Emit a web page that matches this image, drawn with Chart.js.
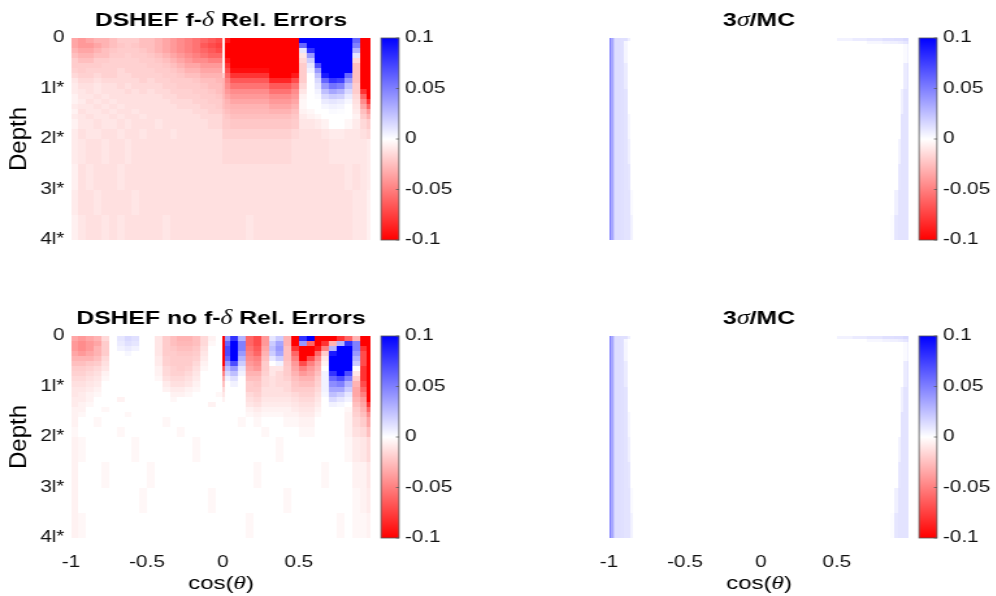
<!DOCTYPE html>
<html>
<head>
<meta charset="utf-8">
<script src="https://cdn.jsdelivr.net/npm/chart.js@4.4.1/dist/chart.umd.min.js"></script>
<style>
  html, body { margin: 0; padding: 0; background: #ffffff; }
  body { width: 996px; height: 596px; position: relative; overflow: hidden; }
  .panel { position: absolute; width: 352px; height: 298px; transform: scaleX(1.3); transform-origin: 0 0; }
  .panel canvas { display: block; }
</style>
</head>
<body>
<div class="panel" style="left:0px;top:0px"><canvas id="errFd" width="352" height="298"></canvas></div>
<div class="panel" style="left:538px;top:0px"><canvas id="sigFd" width="352" height="298"></canvas></div>
<div class="panel" style="left:0px;top:298px"><canvas id="errNoFd" width="352" height="298"></canvas></div>
<div class="panel" style="left:538px;top:298px"><canvas id="sigNoFd" width="352" height="298"></canvas></div>
<script>
// ---------- grid edges and ticks ----------
const cosEdgesErr = [-1,-0.95,-0.9,-0.85,-0.8,-0.75,-0.7,-0.65,-0.6,-0.55,-0.5,-0.45,-0.4,-0.35,-0.3,-0.25,-0.2,-0.15,-0.1,-0.05,
  0,0.015,0.05,0.1,0.15,0.2,0.25,0.3,0.35,0.4,0.45,0.5,0.55,0.6,0.65,0.7,0.75,0.8,0.85,0.9,0.95,0.975];
const depthEdgesErr = [0,0.1,0.2,0.3,0.4,0.5,0.6,0.7,0.8,0.9,1.0,1.1,1.2,1.3,1.4,1.5,1.6,1.8,2.0,2.5,3.0,3.5,4.0];
const cosEdgesSig = [-1,-0.99,-0.975,-0.96,-0.93,-0.9,-0.88,-0.86,-0.84,0.5,0.6,0.7,0.8,0.85,0.88,0.9,0.92,0.94,0.96,0.97,0.975];
const depthEdgesSig = [0,0.06,0.12,0.5,1,1.5,2,2.5,3,3.5,4];

const cosTicks = [-1, -0.5, 0, 0.5];
const cosTickLabels = ['-1', '-0.5', '0', '0.5'];
const depthTicks = [0, 1, 2, 3, 4];
const depthTickLabels = ['0', '1l*', '2l*', '3l*', '4l*'];
const cbarTicks = [-0.1, -0.05, 0, 0.05, 0.1];
const cbarTickLabels = ['-0.1', '-0.05', '0', '0.05', '0.1'];

// ---------- relative errors, in percent (rows = depth bands, columns = cos bins) ----------
const relErrFd = [
  [-3.5,-4,-3.5,-3,-3, -2.5,-2,-2,-2,-2.5, -2.5,-3,-3.5,-4,-4.5, -5,-5.5,-6,-6.5,-7, -0.5,-9, -12,-12,-12,-12,-12, -12,-12,-12,-12,10, 12,12,12,12,12, 12,6,-12,-12],
  [-3.5,-4,-4,-3.5,-3, -2.5,-2.2,-2,-2.2,-2.5, -2.5,-3,-3.5,-4,-4.5, -5,-5.5,-6.5,-7,-7.5, -0.5,-10, -12,-12,-12,-12,-12, -12,-12,-12,-12,6, 12,12,12,12,12, 12,5,-12,-12],
  [-3,-3.5,-3.5,-3,-2.5, -2.2,-2,-2,-2,-2.2, -2.5,-3,-3.5,-4,-4.5, -5,-5.5,-6,-6.5,-7, -0.5,-10, -12,-12,-12,-12,-12, -12,-12,-12,-12,1, 8,12,12,12,12, 12,3,-12,-12],
  [-2.5,-3,-3,-2.5,-2.5, -2,-2,-1.8,-2,-2, -2.2,-2.5,-3,-3.5,-4, -4.5,-5,-5.5,-6,-6, -0.5,-10, -12,-12,-12,-12,-12, -12,-12,-12,-12,-1, 4,12,12,12,12, 12,1,-12,-12],
  [-2,-2.5,-2.5,-2,-2, -1.8,-1.8,-1.8,-1.8,-2, -2,-2.2,-2.5,-3,-3.5, -4,-4.5,-4.5,-5,-5, -0.5,-9, -12,-12,-12,-12,-12, -12,-12,-12,-12,-1.5, 2,10,12,12,12, 12,-1.5,-12,-12],
  [-2,-2,-2,-2,-1.8, -1.8,-1.8,-1.8,-1.8,-1.8, -2,-2,-2.2,-2.5,-3, -3.5,-3.5,-4,-4,-4, -0.5,-8, -11,-11,-11,-11,-11, -12,-12,-12,-12,-2, 1,7,12,12,12, 12,-2.5,-12,-12],
  [-1.8,-2,-1.8,-1.8,-1.8, -1.8,-1.5,-1.8,-1.8,-1.8, -1.8,-2,-2,-2.2,-2.5, -3,-3,-3.5,-3.5,-3.5, -0.5,-7, -9.5,-9.5,-9.5,-9.5,-9.5, -12,-12,-12,-12,-2, 0.5,4,12,12,12, 10,-2.5,-12,-12],
  [-1.5,-1.8,-1.8,-1.5,-1.8, -1.8,-1.5,-1.5,-1.8,-1.8, -1.8,-1.8,-2,-2,-2.2, -2.5,-2.5,-3,-3,-3, -2,-6, -8,-8,-8,-8,-8, -10.5,-10.5,-10.5,-9,-2, 0,2.5,9,12,12, 6,-2.5,-12,-12],
  [-1,-1.5,-1.5,-1.2,-1.5, -1.5,-1.5,-1.5,-1.5,-1.8, -1.5,-1.8,-1.8,-2,-2, -2,-2.2,-2.5,-2.5,-2.8, -3,-5, -6.5,-6.5,-6.5,-6.5,-6.5, -8.5,-8.5,-8.5,-7,-2, 0,1.5,6,8,7.5, 4,-2.5,-12,-12],
  [-0.8,-1.2,-1.2,-1,-1.2, -1.2,-1.5,-1.2,-1.5,-1.5, -1.5,-1.5,-1.8,-1.8,-2, -2,-2,-2.2,-2.5,-2.5, -3,-4.5, -5.5,-5.5,-5.5,-5.5,-5.5, -6.5,-6.5,-6.5,-5.5,-1.5, 0,1,4,5.5,5, 2.5,-2,-10,-12],
  [-0.8,-1,-1.2,-1,-1.2, -1.2,-1.2,-1.5,-1.2,-1.5, -1.2,-1.5,-1.5,-1.8,-1.8, -1.8,-2,-2,-2.2,-2.5, -3,-4, -4.5,-4.5,-4.5,-4.5,-4.5, -5.5,-5.5,-5.5,-4.5,-1, 0,0.5,2.5,3.5,3, 1.5,-2,-8,-12],
  [-0.5,-1,-1,-1.2,-1, -1.2,-1.2,-1.2,-1.2,-1.2, -1.2,-1.2,-1.5,-1.5,-1.8, -1.8,-1.8,-2,-2,-2.2, -2.8,-3.5, -4,-4,-4,-4,-4, -4.5,-4.5,-4.5,-4,-0.5, 0,0.2,1.5,2,1.8, 0.8,-1.5,-6,-10],
  [-0.5,-0.8,-1.2,-1,-1.2, -1,-1.2,-1.2,-1.2,-1.2, -1.2,-1.2,-1.2,-1.5,-1.5, -1.5,-1.8,-1.8,-2,-2, -2.5,-3, -3.5,-3.5,-3.5,-3.5,-3.5, -4,-4,-4,-3.5,-0.3, 0,0,0.8,1,0.8, 0.3,-1.2,-4.5,-8],
  [-0.8,-1,-1,-1.2,-1, -1.2,-1,-1.2,-1.2,-1.2, -1.2,-1.2,-1.2,-1.2,-1.5, -1.5,-1.5,-1.8,-1.8,-2, -2.5,-2.8, -3,-3,-3,-3,-3, -3.5,-3.5,-3.5,-3,-0.3, 0,0,0.3,0.5,0.4, 0,-1,-3.5,-6],
  [-0.5,-1.2,-1,-1,-1.2, -1,-1.2,-1.2,-1,-1.2, -1.2,-1.2,-1.2,-1.2,-1.2, -1.2,-1.5,-1.5,-1.8,-1.8, -2.2,-2.5, -2.8,-2.8,-2.8,-2.8,-2.8, -3,-3,-3,-2.5,-0.5, -0.3,0,0,0.2,0.1, 0,-0.8,-2.5,-4],
  [-0.8,-1,-1.2,-1,-1, -1.2,-1,-1.2,-1.2,-1, -1.2,-1.2,-1.2,-1.2,-1.2, -1.2,-1.2,-1.5,-1.5,-1.5, -2,-2.2, -2.5,-2.5,-2.5,-2.5,-2.5, -2.5,-2.5,-2.5,-2.2,-0.8, -0.5,-0.3,0,0,0, 0,-0.5,-2,-3],
  [-0.5,-1,-1,-1.2,-1, -1,-1.2,-1,-1.2,-1.2, -1.2,-1,-1.2,-1.2,-1.2, -1.2,-1.2,-1.2,-1.5,-1.5, -2,-2, -2.2,-2.2,-2.2,-2.2,-2.2, -2.2,-2.2,-2.2,-2,-1, -1,-0.8,-0.5,0,0, -0.3,-0.8,-1.5,-2],
  [-0.8,-1.2,-1,-1,-1.2, -1.2,-1,-1.2,-1.2,-1, -1.2,-1.2,-1.2,-1,-1.2, -1.2,-1.2,-1.2,-1.2,-1.2, -1.8,-1.8, -1.8,-1.8,-1.8,-1.8,-1.8, -1.8,-1.8,-1.8,-1.5,-1.2, -1.2,-1.2,-1,-0.8,-0.8, -1,-1,-1.2,-1.5],
  [-0.8,-1,-1.2,-1.2,-1, -1.2,-1.2,-1,-1.2,-1.2, -1.2,-1.2,-1.2,-1.2,-1.2, -1.2,-1.2,-1.2,-1.2,-1.2, -1.5,-1.5, -1.5,-1.5,-1.5,-1.5,-1.5, -1.5,-1.5,-1.5,-1.2,-1.2, -1.2,-1.2,-1.2,-1,-1, -1,-1,-1,-0.8],
  [-0.6,-1.2,-1,-1.2,-1.2, -1.2,-1,-1.2,-1.2,-1.2, -1.2,-1.2,-1.2,-1.2,-1.2, -1.2,-1.2,-1.2,-1.2,-1.2, -1.2,-1.2, -1.2,-1.2,-1.2,-1.2,-1.2, -1.2,-1.2,-1.2,-1.2,-1.2, -1.2,-1.2,-1.2,-1.2,-1.2, -1,-1.2,-1,-0.8],
  [-0.8,-1.2,-1.2,-1,-1.2, -1.2,-1.2,-1.2,-1,-1.2, -1.2,-1.2,-1.2,-1.2,-1.2, -1.2,-1.2,-1.2,-1.2,-1.2, -1.2,-1.2, -1.2,-1.2,-1.2,-1.2,-1.2, -1.2,-1.2,-1.2,-1.2,-1.2, -1.2,-1.2,-1.2,-1.2,-1.2, -1.2,-1,-1,-0.6],
  [-0.6,-1,-1.2,-1.2,-1, -1.2,-1,-1.2,-1.2,-1.2, -1.2,-1.2,-1,-1.2,-1.2, -1.2,-1.2,-1.2,-1.2,-1.2, -1.2,-1.2, -1.2,-1.2,-1,-1.2,-1.2, -1.2,-1.2,-1.2,-1.2,-1.2, -1.2,-1.2,-1.2,-1.2,-1.2, -1.2,-1,-1,-0.6]
];

const relErrNoFd = [
  [-3.5,-4,-3.5,-3,-1.5, 0,1,1.5,1.2,0, 0,-1,-2,-2.5,-3, -3,-2.5,-1.5,-0.5,0, -12,4, 8,3,-6,-7,-4, 1,2,-3,-10,8, 12,-12,-12,-10,-8, -6,-3,-12,-12],
  [-4,-4.5,-4,-3.5,-2, 0,0.8,1.2,1,0, 0,-1,-2,-2.5,-2.8, -2.8,-2.5,-1.5,-0.3,0, -12,6, 12,5,-6,-7,-4, 2,3.5,-3,-10,4, -6,-12,-8,-3,3, 8,5,-10,-12],
  [-4,-4.5,-4,-3,-2, 0,0.5,0.8,0.5,0, 0,-1,-2,-2.2,-2.5, -2.5,-2.2,-1.2,0,0, -12,7, 12,5,-5.5,-6.5,-3.5, 2.5,4,-2.5,-8,-12, -12,-9,-5,3,12, 12,5,-8,-12],
  [-3.5,-4,-3.5,-3,-2, 0,0,0.3,0,0, 0,-1,-2,-2,-2.2, -2.2,-2,-1,0,0, -12,7, 12,4,-5,-6,-3, 2,3.5,-2.5,-6,-12, -10,-6,-2,9,12, 12,4,-7,-12],
  [-3,-3,-3,-2.5,-1.5, 0,0,0,0,0, 0,-0.8,-1.8,-2,-2, -2,-1.8,-0.8,0,0, -12,6, 10,3,-4.5,-5,-2.5, 1,2,-2.5,-5,-10, -7,-4.5,-1,12,12, 12,3,-7,-12],
  [-2.5,-2.5,-2.2,-2,-1.2, 0,0,0,0,0, 0,-0.8,-1.8,-2,-2, -2,-1.5,-0.5,0,0, -10,4, 7,2,-4,-4.5,-2, 0,0.5,-2.2,-4,-7, -5,-3.5,-0.5,12,12, 12,2,-7,-12],
  [-2,-2,-1.8,-1.5,-1, 0,0,0,0,0, 0,-0.5,-1.5,-1.8,-2, -1.8,-1.2,-0.3,0,0, -7,2.5, 4,1,-3.5,-4,-2, -1,-1,-2,-3.5,-5, -4,-3,0,10,12, 10,0,-8,-12],
  [-1.8,-1.8,-1.5,-1.2,-0.5, 0,0,0,0,0, 0,-0.5,-1.5,-1.8,-1.8, -1.5,-1,0,0,0, -5,1.5, 2.5,0.5,-3,-3,-1.8, -1,-1.5,-2,-3,-4, -3.5,-2.5,0.5,8,10, 7,-1,-8,-12],
  [-1.5,-1.5,-1.2,-1,-0.3, 0,0,0,0,0, 0,-0.3,-1.2,-1.5,-1.5, -1.2,-0.8,0,0,0, -3.5,0.5, 1.2,0,-2.5,-2.5,-1.5, -1.2,-1.5,-1.8,-2.5,-3, -3,-2,0.5,6,7, 5,-2,-8,-12],
  [-1.2,-1.2,-1,-0.8,0, 0,0,0,0,0, 0,0,-0.8,-1.2,-1.2, -1,-0.5,0,0,0, -2.5,0, 0.5,0,-2,-2.2,-1.5, -1.2,-1.5,-1.5,-2.2,-2.5, -2.5,-1.8,0.5,4.5,5, 3,-3,-7,-12],
  [-1,-1,-0.8,-0.5,0, 0,0,0,0,0, 0,0,-0.5,-0.8,-0.8, -0.5,-0.3,0,0,0, -1.5,0, 0,0,-2,-2,-1.2, -1.2,-1.2,-1.5,-2,-2, -2,-1.5,0.5,3.5,3.5, 2,-3.5,-6,-12],
  [-1,-0.8,-0.5,-0.3,0, 0,0,0,0,0, 0,0,0,-0.5,-0.5, -0.3,0,0,0,-0.3, -1,0, 0,0,-1.5,-1.8,-1.2, -1.2,-1.2,-1.2,-1.5,-1.8, -1.8,-1.2,0.3,2.5,2, 1,-3.5,-5,-12],
  [-0.8,-0.8,-0.5,0,0, 0,-0.5,0,0,0, 0,0,0,-0.3,0, 0,0,0,0,0, -0.5,0, 0,0,-1.2,-1.5,-1, -1,-1,-1,-1.2,-1.5, -1.5,-1,0,1.5,1, 0.5,-3,-4,-10],
  [-0.8,-0.5,-0.3,0,0, 0,0,0,0,0, 0,0,0,0,0, 0,0,0,-0.5,0, 0,0, 0,0,-1,-1.2,-0.8, -0.8,-0.8,-0.8,-1,-1.2, -1.2,-0.8,0,0.5,0.3, 0,-2.5,-3.5,-8],
  [-0.5,-0.5,0,0,-0.3, 0,0,0,0,0, 0,0,0,0,0, 0,0,0,0,0, 0,0, 0,0,-0.5,-0.8,-0.5, -0.5,-0.5,-0.5,-0.8,-1, -1,-0.5,0,0,0, -0.3,-2,-3,-6],
  [-0.5,-0.3,0,0,0, 0,0,-0.3,0,0, 0,0,0,0,0, 0,0,0,0,0, 0,0, 0,0,-0.3,-0.5,-0.3, -0.3,-0.3,-0.5,-0.5,-0.8, -0.8,-0.3,0,0,0, -0.5,-1.8,-2.5,-4.5],
  [-0.5,0,0,-0.3,0, 0,0,0,0,0, 0,0,-0.3,0,0, 0,0,0,0,0, 0,0, 0,-0.3,0,-0.3,0, 0,0,-0.3,-0.3,-0.5, -0.5,0,0,0,0, -0.5,-1.5,-2,-3.5],
  [-0.3,0,0,0,0, 0,-0.3,0,0,0, 0,0,0,0,-0.3, 0,0,0,0,0, 0,0, 0,0,0,0,-0.3, 0,0,0,0,-0.3, -0.3,0,0,0,0, -0.5,-1.2,-1.5,-2.5],
  [-0.5,-0.3,0,0,0, 0,0,0,-0.3,0, 0,0,0,0,0, 0,-0.3,0,0,0, 0,0, 0,0,0,0,0, 0,-0.3,0,0,0, 0,0,0,0,0, -0.3,-0.8,-1,-1.5],
  [-0.5,0,0,0,-0.3, 0,0,0,0,0, -0.3,0,0,0,0, 0,0,0,0,0, 0,0, 0,0,0,-0.3,0, 0,0,0,0,0, 0,0,-0.3,0,0, 0,-0.5,-0.5,-1],
  [-0.5,0,0,0,0, 0,0,0,0,-0.3, 0,0,0,0,0, 0,0,0,-0.3,0, 0,0, 0,0,0,0,0, 0,0,-0.3,0,0, 0,0,0,0,0, 0,-0.3,-0.5,-0.8],
  [-0.5,-0.3,0,0,0, 0,0,0,0,0, 0,0,0,0,0, 0,0,0,0,0, 0,0, 0,0,-0.3,0,0, 0,0,0,0,0, 0,0,0,0,-0.3, 0,-0.3,-0.3,-0.5]
];

// 3-sigma Monte Carlo noise relative to the MC value, in percent
const sigmaOverMc = [
  [5,3.5,2,1.3,1.2,1.2,0.6,0, 0, 0.5,0.8,1,1.2,1.2,1.3,1.3,1.3,1.5,1.5,2],
  [5,3.5,2,1.3,1.2,0.3,0,0, 0, 0,0,0.3,0.5,0.6,0.6,0.7,0.8,1,1.2,2],
  [5,3.5,2,1.3,1.2,0.4,0,0, 0, 0,0,0,0,0,0,0,0,0.2,0.6,2],
  [5,3.5,2,1.3,1.2,0.8,0,0, 0, 0,0,0,0,0,0,0,0,0.8,1.1,2],
  [5,3.5,2,1.3,1.2,1.1,0,0, 0, 0,0,0,0,0,0,0,0.6,1.1,1.1,2],
  [5,3.5,2,1.3,1.2,1.1,0.3,0, 0, 0,0,0,0,0,0,0,1.1,1.1,1.1,2],
  [5,3.5,2,1.3,1.2,1.1,0.6,0, 0, 0,0,0,0,0,0,0.5,1.1,1.1,1.1,2],
  [5,3.5,2,1.3,1.2,1.1,1,0, 0, 0,0,0,0,0,0,1,1.1,1.1,1.1,2],
  [5,3.5,2,1.3,1.2,1.1,1.1,0.2, 0, 0,0,0,0,0,0.6,1.1,1.1,1.1,1.1,2],
  [5,3.5,2,1.3,1.2,1.1,1.1,0.5, 0, 0,0,0,0,0.1,1,1.1,1.1,1.1,1.1,2]
];

// ---------- presentation ----------
const H_STRETCH = 1.3;             // horizontal stretch applied to every panel by CSS
const CW = 352, CH = 298;          // canvas size of one panel
const PLOT = { left: 54.6, right: 285.4, top: 38, bottom: 240 };
const CBAR = { gap: 7.7, width: 13.8 };
const INK = '#111111';
const SANS = '"Liberation Sans", Arial, Helvetica, sans-serif';
const SERIF = '"Liberation Serif", "Times New Roman", serif';

Chart.defaults.font.family = SANS;
Chart.defaults.font.size = 16;
Chart.defaults.color = INK;

// red - white - blue map, saturating at +-0.1
function rwb(v) {
  const t = Math.max(-1, Math.min(1, v / 0.1));
  if (t >= 0) { const a = Math.round(255 * (1 - t)); return `rgb(${a},${a},255)`; }
  const a = Math.round(255 * (1 + t));
  return `rgb(255,${a},${a})`;
}

function heatmapLayer(xEdges, yEdges, valuesPct) {
  return {
    id: 'heatmapLayer',
    beforeDatasetsDraw(chart) {
      const { ctx, chartArea: a, scales: { x, y } } = chart;
      ctx.save();
      ctx.beginPath();
      ctx.rect(a.left, a.top, a.right - a.left, a.bottom - a.top);
      ctx.clip();
      for (let r = 0; r < valuesPct.length; r++) {
        const ya = Math.round(y.getPixelForValue(yEdges[r]));
        const yb = Math.round(y.getPixelForValue(yEdges[r + 1]));
        const row = valuesPct[r];
        for (let c = 0; c < row.length; c++) {
          const xa = Math.round(x.getPixelForValue(xEdges[c]));
          const xb = Math.round(x.getPixelForValue(xEdges[c + 1]));
          ctx.fillStyle = rwb(row[c] / 100);
          ctx.fillRect(xa, ya, xb - xa, yb - ya);
        }
      }
      ctx.restore();
    }
  };
}

const colorbarLayer = {
  id: 'colorbarLayer',
  afterDraw(chart) {
    const { ctx, chartArea: a } = chart;
    const s = chart.scales.cb;
    const x0 = a.right + CBAR.gap, x1 = x0 + CBAR.width;
    const yTop = s.getPixelForValue(cbarTicks[cbarTicks.length - 1]);
    const yBot = s.getPixelForValue(cbarTicks[0]);
    const g = ctx.createLinearGradient(0, yTop, 0, yBot);
    g.addColorStop(0, rwb(0.1));
    g.addColorStop(0.5, rwb(0));
    g.addColorStop(1, rwb(-0.1));
    ctx.save();
    ctx.fillStyle = g;
    ctx.fillRect(x0, yTop, x1 - x0, yBot - yTop);
    ctx.strokeStyle = '#555';
    ctx.lineWidth = 0.8;
    ctx.strokeRect(x0, yTop, x1 - x0, yBot - yTop);
    ctx.beginPath();
    cbarTicks.forEach(v => {
      const yy = s.getPixelForValue(v);
      ctx.moveTo(x1 - 2.3, yy);
      ctx.lineTo(x1, yy);
    });
    ctx.stroke();
    ctx.restore();
  }
};

function drawRich(ctx, segs, cx, baseline) {
  let w = 0;
  segs.forEach(s => { ctx.font = s.font; s.w = ctx.measureText(s.text).width; w += s.w; });
  let x = cx - w / 2;
  ctx.textAlign = 'left';
  ctx.textBaseline = 'alphabetic';
  segs.forEach(s => { ctx.font = s.font; ctx.fillText(s.text, x, baseline); x += s.w; });
}

function labelLayer(cfg) {
  return {
    id: 'labelLayer',
    afterDraw(chart) {
      const { ctx, chartArea: a } = chart;
      const cx = (a.left + a.right) / 2;
      ctx.save();
      ctx.fillStyle = '#000';
      drawRich(ctx, cfg.title, cx, 26);
      if (cfg.showX) {
        drawRich(ctx, [
          { text: 'cos(', font: `18.5px ${SANS}` },
          { text: 'θ', font: `italic 19.5px ${SERIF}` },
          { text: ')', font: `18.5px ${SANS}` }
        ], cx, 291);
      }
      if (cfg.showY) {
        ctx.save();
        ctx.translate(19.5, (a.top + a.bottom) / 2);
        ctx.scale(1 / H_STRETCH, 1);
        ctx.rotate(-Math.PI / 2);
        ctx.font = `24px ${SANS}`;
        ctx.textAlign = 'center';
        ctx.textBaseline = 'alphabetic';
        ctx.fillText('Depth', 0, 0);
        ctx.restore();
      }
      ctx.restore();
    }
  };
}

function makePanel(id, cfg) {
  return new Chart(document.getElementById(id), {
    type: 'scatter',
    data: { datasets: [] },
    options: {
      responsive: false,
      animation: false,
      devicePixelRatio: 1,
      layout: { padding: { top: PLOT.top, left: 0, right: 0, bottom: 0 } },
      plugins: { legend: { display: false }, tooltip: { enabled: false }, title: { display: false } },
      scales: {
        x: {
          type: 'linear', position: 'bottom', min: -1, max: 0.975,
          grid: { display: false, drawTicks: false }, border: { display: false },
          afterBuildTicks: s => { s.ticks = cosTicks.map(v => ({ value: v })); },
          afterFit: s => { s.height = CH - PLOT.bottom; },
          ticks: { display: cfg.showX, autoSkip: false, maxRotation: 0, padding: 15, color: INK,
                   callback: (v, i) => cosTickLabels[i] }
        },
        y: {
          type: 'linear', position: 'left', min: 0, max: 4, reverse: true,
          grid: { display: false, drawTicks: false }, border: { display: false },
          afterBuildTicks: s => { s.ticks = depthTicks.map(v => ({ value: v })); },
          afterFit: s => { s.width = PLOT.left; },
          ticks: { display: cfg.showY, autoSkip: false, padding: 5, color: INK,
                   callback: (v, i) => depthTickLabels[i] }
        },
        cb: {
          axis: 'y', type: 'linear', position: 'right', min: -0.1, max: 0.1,
          grid: { display: false, drawTicks: false }, border: { display: false },
          afterBuildTicks: s => { s.ticks = cbarTicks.map(v => ({ value: v })); },
          afterFit: s => { s.width = CW - PLOT.right; },
          ticks: { autoSkip: false, padding: 26, color: INK,
                   callback: (v, i) => cbarTickLabels[i] }
        }
      }
    },
    plugins: [heatmapLayer(cfg.xEdges, cfg.yEdges, cfg.values), colorbarLayer, labelLayer(cfg)]
  });
}

const boldT = t => ({ text: t, font: `bold 19px ${SANS}` });
const greekT = t => ({ text: t, font: `italic 20px ${SERIF}` });

makePanel('errFd', {
  title: [boldT('DSHEF f-'), greekT('δ'), boldT(' Rel. Errors')],
  xEdges: cosEdgesErr, yEdges: depthEdgesErr, values: relErrFd, showX: false, showY: true
});
makePanel('sigFd', {
  title: [boldT('3'), greekT('σ'), boldT('/MC')],
  xEdges: cosEdgesSig, yEdges: depthEdgesSig, values: sigmaOverMc, showX: false, showY: false
});
makePanel('errNoFd', {
  title: [boldT('DSHEF no f-'), greekT('δ'), boldT(' Rel. Errors')],
  xEdges: cosEdgesErr, yEdges: depthEdgesErr, values: relErrNoFd, showX: true, showY: true
});
makePanel('sigNoFd', {
  title: [boldT('3'), greekT('σ'), boldT('/MC')],
  xEdges: cosEdgesSig, yEdges: depthEdgesSig, values: sigmaOverMc, showX: true, showY: false
});
</script>
</body>
</html>
